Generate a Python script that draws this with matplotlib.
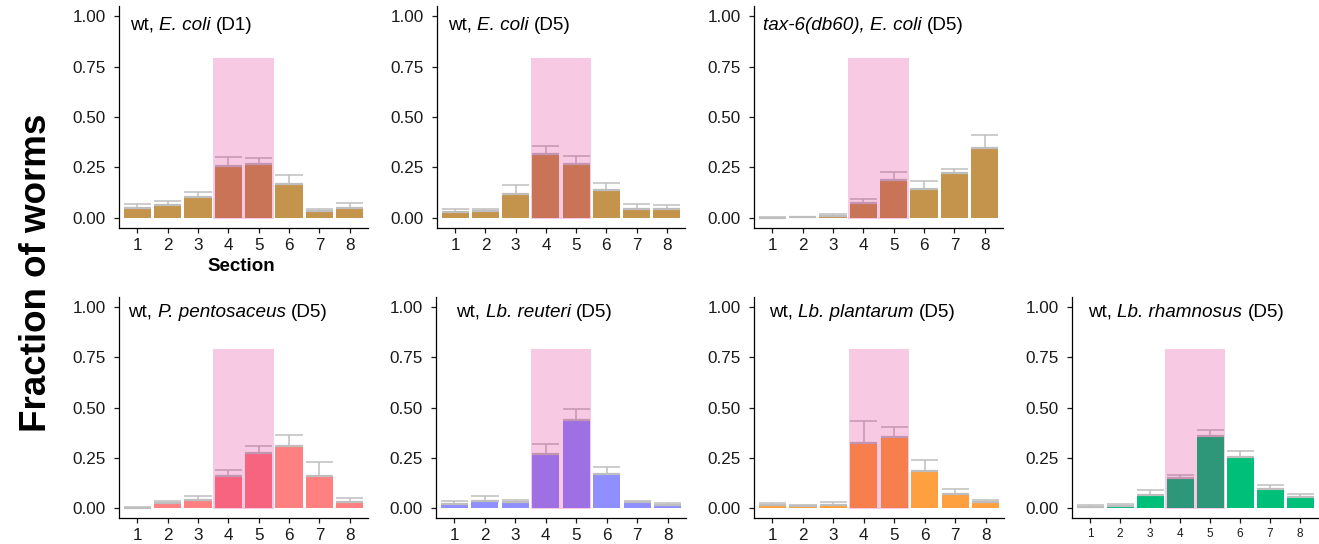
import numpy as np
import matplotlib
matplotlib.use("Agg")
from matplotlib import pyplot as plt
from matplotlib.patches import Rectangle

plt.rcParams["font.family"] = ["Liberation Sans", "DejaVu Sans"]

sections = [1, 2, 3, 4, 5, 6, 7, 8]
highlight = [4, 5]
highlight_top = 0.79

# each title: list of (text, font style) pieces, joined by a space
titles = [
    [("wt,", "normal"), ("E. coli", "italic"), ("(D1)", "normal")],
    [("wt,", "normal"), ("E. coli", "italic"), ("(D5)", "normal")],
    [("tax-6(db60), E. coli", "italic"), ("(D5)", "normal")],
    [("wt,", "normal"), ("P. pentosaceus", "italic"), ("(D5)", "normal")],
    [("wt,", "normal"), ("Lb. reuteri", "italic"), ("(D5)", "normal")],
    [("wt,", "normal"), ("Lb. plantarum", "italic"), ("(D5)", "normal")],
    [("wt,", "normal"), ("Lb. rhamnosus", "italic"), ("(D5)", "normal")],
]

ecoli_d1 = [0.049, 0.063, 0.102, 0.259, 0.267, 0.170, 0.036, 0.049]
ecoli_d1_err = [0.022, 0.021, 0.025, 0.044, 0.028, 0.043, 0.010, 0.023]
ecoli_d5 = [0.030, 0.035, 0.119, 0.315, 0.267, 0.137, 0.046, 0.043]
ecoli_d5_err = [0.013, 0.011, 0.042, 0.041, 0.038, 0.034, 0.025, 0.020]
tax6_d5 = [0.002, 0.003, 0.008, 0.076, 0.188, 0.145, 0.221, 0.346]
tax6_d5_err = [0.002, 0.002, 0.012, 0.016, 0.041, 0.040, 0.020, 0.063]
pento_d5 = [0.002, 0.023, 0.040, 0.160, 0.272, 0.310, 0.158, 0.030]
pento_d5_err = [0.002, 0.014, 0.021, 0.028, 0.036, 0.054, 0.069, 0.018]
reuteri_d5 = [0.020, 0.033, 0.030, 0.267, 0.436, 0.168, 0.028, 0.013]
reuteri_d5_err = [0.015, 0.025, 0.011, 0.049, 0.058, 0.035, 0.007, 0.010]
plant_d5 = [0.015, 0.008, 0.015, 0.321, 0.354, 0.185, 0.071, 0.028]
plant_d5_err = [0.011, 0.005, 0.016, 0.114, 0.048, 0.052, 0.025, 0.013]
rham_d5 = [0.007, 0.012, 0.066, 0.148, 0.357, 0.254, 0.092, 0.053]
rham_d5_err = [0.006, 0.009, 0.025, 0.018, 0.030, 0.028, 0.023, 0.015]

means = [ecoli_d1, ecoli_d5, tax6_d5, pento_d5, reuteri_d5, plant_d5, rham_d5]
errs = [ecoli_d1_err, ecoli_d5_err, tax6_d5_err, pento_d5_err,
        reuteri_d5_err, plant_d5_err, rham_d5_err]
colors = ["#C4944D", "#C4944D", "#C4944D", "#FF8080", "#8F8FFF", "#FFA040", "#00BF78"]

# panel boxes in pixels: left, right, top, bottom
W, H = 1319, 544
boxes = [
    (119, 368, 6, 228), (437, 685, 6, 228), (754, 1003, 6, 228),
    (119, 368, 297, 518), (436, 686, 297, 518), (754, 1004, 297, 518),
    (1072, 1318, 297, 518),
]
title_x = [0.77, 0.77, 0.68, 0.71, 1.07, 0.88, 0.93]
title_y = [0.955, 0.955, 0.955, 0.975, 0.975, 0.975, 0.975]
title_fs = 13.6


def rich_title(ax, x, y, pieces, fs):
    txt, st = pieces[0]
    prev = ax.text(x, y, txt, style=st, fontsize=fs, ha="left", va="center", zorder=5)
    for txt, st in pieces[1:]:
        prev = ax.annotate(txt, xy=(1, 0), xycoords=prev, xytext=(0.278 * fs, 0),
                           textcoords="offset points", style=st, fontsize=fs,
                           ha="left", va="bottom", zorder=5)


fig = plt.figure(figsize=(W / 100, H / 100), dpi=100)

for i in range(7):
    l, r, t, b = boxes[i]
    ax = fig.add_axes([l / W, (H - b) / H, (r - l) / W, (b - t) / H])
    x = np.array(sections)
    m = np.array(means[i])
    e = np.array(errs[i])
    ax.bar(x, m, width=0.9, color=colors[i], zorder=2)
    ax.vlines(x, m, m + e, color="#BEBEBE", lw=1.1, zorder=3)
    ax.hlines(m, x - 0.45, x + 0.45, color="#BEBEBE", lw=1.6, zorder=3)
    ax.hlines(m + e, x - 0.45, x + 0.45, color="#BEBEBE", lw=1.1, zorder=3)
    ax.add_patch(Rectangle((highlight[0] - 0.5, -0.006), len(highlight), highlight_top + 0.006,
                           facecolor="#DD007E", alpha=0.21, edgecolor="none", zorder=4))
    ax.set_xlim(0.4, 8.6)
    ax.set_ylim(-0.05, 1.05)
    ax.set_xticks(sections)
    ax.set_yticks([0, 0.25, 0.5, 0.75, 1.0])
    ax.set_yticklabels(["0.00", "0.25", "0.50", "0.75", "1.00"])
    for s in ["top", "right"]:
        ax.spines[s].set_visible(False)
    for s in ["left", "bottom"]:
        ax.spines[s].set_linewidth(0.9)
    xsize = 8.5 if i == 6 else 12.3
    ax.tick_params(axis="x", labelsize=xsize, length=3.5, width=0.9, pad=3.5, colors="#1a1a1a")
    ax.tick_params(axis="y", labelsize=12.3, length=3.5, width=0.9, pad=6, colors="#1a1a1a")
    rich_title(ax, title_x[i], title_y[i], titles[i], title_fs)

fig.text(241 / W, 1 - 267 / H, "Section", fontsize=13.5, fontweight="bold",
         ha="center", va="center")
fig.text(37 / W, 1 - 273 / H, "Fraction of worms", fontsize=26.5, fontweight="bold",
         rotation=90, ha="center", va="center")

fig.savefig("out.png", dpi=100)
